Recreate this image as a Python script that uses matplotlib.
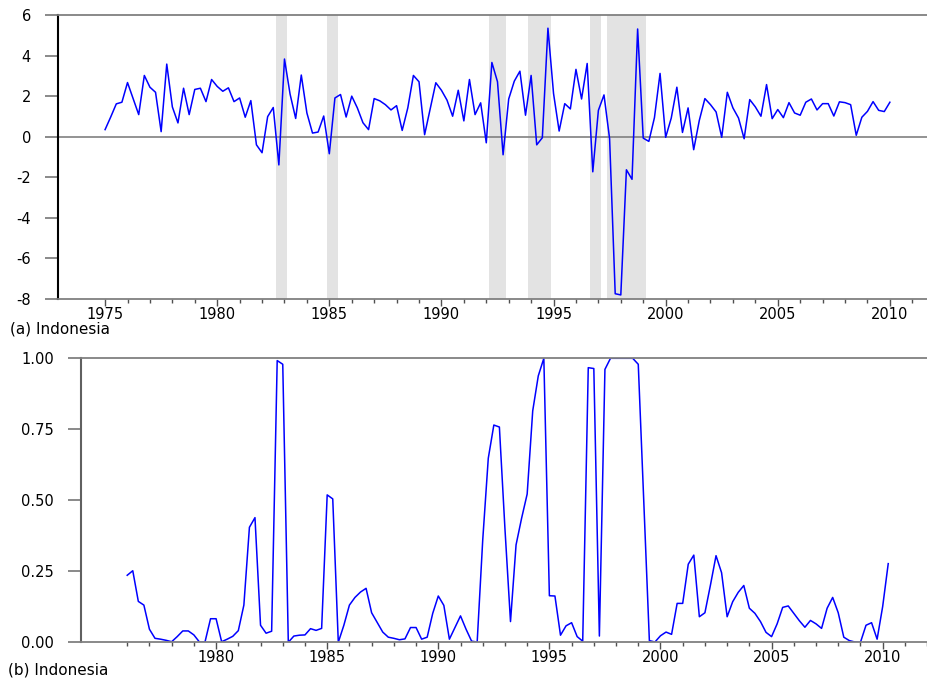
import numpy as np
import matplotlib.pyplot as plt
from matplotlib.ticker import FixedLocator

# quarterly GDP growth, 1975Q1 .. 2010Q1
growth = [0.35, 0.97, 1.62, 1.70,
          2.67, 1.88, 1.09, 3.02,
          2.44, 2.19, 0.25, 3.58,
          1.47, 0.68, 2.39, 1.09,
          2.33, 2.39, 1.73, 2.82,
          2.48, 2.24, 2.41, 1.73,
          1.91, 0.96, 1.78, -0.40,
          -0.79, 0.99, 1.44, -1.39,
          3.83, 2.10, 0.90, 3.04,
          1.17, 0.18, 0.23, 1.02,
          -0.84, 1.91, 2.08, 0.97,
          2.00, 1.42, 0.69, 0.35,
          1.88, 1.77, 1.58, 1.32,
          1.53, 0.31, 1.42, 3.02,
          2.71, 0.10, 1.37, 2.66,
          2.29, 1.80, 1.01, 2.29,
          0.78, 2.82, 1.09, 1.67,
          -0.30, 3.66, 2.71, -0.89,
          1.86, 2.74, 3.23, 1.06,
          3.02, -0.40, -0.05, 5.35,
          2.13, 0.28, 1.63, 1.37,
          3.32, 1.86, 3.61, -1.73,
          1.30, 2.06, -0.10, -7.74,
          -7.80, -1.63, -2.10, 5.31,
          -0.07, -0.23, 0.94, 3.12,
          -0.03, 0.92, 2.44, 0.21,
          1.42, -0.64, 0.80, 1.88,
          1.58, 1.22, -0.03, 2.19,
          1.42, 0.92, -0.10, 1.83,
          1.47, 1.01, 2.57, 0.89,
          1.34, 0.94, 1.68, 1.17,
          1.06, 1.70, 1.86, 1.32,
          1.63, 1.63, 1.02, 1.72,
          1.68, 1.58, 0.07, 0.96,
          1.25, 1.73, 1.30, 1.24,
          1.70]
growth_start = 1975

# regime probability, 1976Q1 .. 2010Q2
prob = [0.236, 0.252, 0.144, 0.131,
        0.046, 0.014, 0.011, 0.007,
        0.002, 0.020, 0.040, 0.040,
        0.026, 0.001, 0.001, 0.083,
        0.083, 0.002, 0.011, 0.021,
        0.041, 0.131, 0.405, 0.439,
        0.060, 0.032, 0.039, 0.992,
        0.979, 0.0, 0.022, 0.025,
        0.026, 0.048, 0.042, 0.049,
        0.519, 0.505, 0.0, 0.060,
        0.131, 0.158, 0.177, 0.190,
        0.104, 0.070, 0.036, 0.018,
        0.014, 0.009, 0.012, 0.052,
        0.052, 0.011, 0.018, 0.102,
        0.163, 0.130, 0.011, 0.052,
        0.093, 0.046, 0.004, 0.001,
        0.360, 0.648, 0.765, 0.758,
        0.40, 0.073, 0.343, 0.437,
        0.522, 0.815, 0.938, 1.0,
        0.164, 0.163, 0.025, 0.058,
        0.069, 0.020, 0.004, 0.967,
        0.964, 0.022, 0.961, 1.0,
        1.0, 1.0, 1.0, 1.0,
        0.979, 0.49, 0.006, 0.001,
        0.023, 0.036, 0.028, 0.137,
        0.137, 0.275, 0.307, 0.090,
        0.104, 0.202, 0.305, 0.245,
        0.090, 0.143, 0.176, 0.200,
        0.120, 0.102, 0.073, 0.035,
        0.020, 0.065, 0.123, 0.128,
        0.102, 0.076, 0.053, 0.077,
        0.065, 0.049, 0.120, 0.158,
        0.104, 0.018, 0.006, 0.001,
        0.0, 0.060, 0.069, 0.011,
        0.126, 0.277]
prob_start = 1976

t_g = growth_start + 0.25 * np.arange(len(growth))
t_p = prob_start + 0.25 * np.arange(len(prob))

plt.rcParams['font.family'] = 'DejaVu Sans'
BLUE = '#0000ff'
GRAY = '#808080'

fig = plt.figure(figsize=(9.28, 6.84), dpi=100)
ax1 = fig.add_axes([58 / 928, 1 - 299 / 684, 870 / 928, 284 / 684])
ax2 = fig.add_axes([81 / 928, 1 - 642.3 / 684, 847 / 928, 284 / 684])


def style(ax, minors, majors):
    for s in ['top', 'bottom']:
        ax.spines[s].set_color(GRAY)
        ax.spines[s].set_linewidth(1.3)
    ax.spines['right'].set_visible(False)
    ax.xaxis.set_major_locator(FixedLocator(majors))
    ax.xaxis.set_minor_locator(FixedLocator(minors))
    ax.set_xticklabels([str(y) for y in majors])
    ax.tick_params(axis='x', which='major', direction='out', length=5,
                   width=1, color='#505050', labelsize=10.5, pad=0.5)
    ax.tick_params(axis='x', which='minor', direction='out', length=3,
                   width=1, color='#505050')
    ax.tick_params(axis='y', direction='out', length=9.5, width=1.3,
                   color=GRAY, labelsize=10.5, pad=10)


# (a) growth with shaded high-probability quarters
for t, p in zip(t_p, prob):
    if p >= 0.5:
        ax1.axvspan(t - 0.125, t + 0.125, color='#e3e3e3', lw=0, zorder=0)
ax1.axhline(0, color=GRAY, lw=1.2, zorder=1)
ax1.plot(t_g, growth, color=BLUE, lw=1.1, zorder=2)
ax1.set_xlim(1972.9, 2011.7)
ax1.set_ylim(-8, 6)
ax1.set_yticks(np.arange(-8, 7, 2))
ax1.set_yticklabels([str(v) if v >= 0 else '-' + str(-v) for v in range(-8, 7, 2)])
style(ax1, np.arange(1975, 2012), np.arange(1975, 2011, 5))
ax1.spines['left'].set_color('black')
ax1.spines['left'].set_linewidth(1.5)

# (b) probability
ax2.plot(t_p, prob, color=BLUE, lw=1.1)
ax2.set_xlim(1973.92, 2012.04)
ax2.set_ylim(0, 1)
ax2.set_yticks([0, 0.25, 0.5, 0.75, 1.0])
ax2.set_yticklabels(['0.00', '0.25', '0.50', '0.75', '1.00'])
style(ax2, np.arange(1976, 2013), np.arange(1980, 2011, 5))
ax2.spines['left'].set_color('#606060')
ax2.spines['left'].set_linewidth(1.5)

fig.text(10 / 928, 1 - 329 / 684, '(a) Indonesia', fontsize=11, va='center')
fig.text(8 / 928, 1 - 670 / 684, '(b) Indonesia', fontsize=11, va='center')

fig.savefig('out.png', dpi=100)
